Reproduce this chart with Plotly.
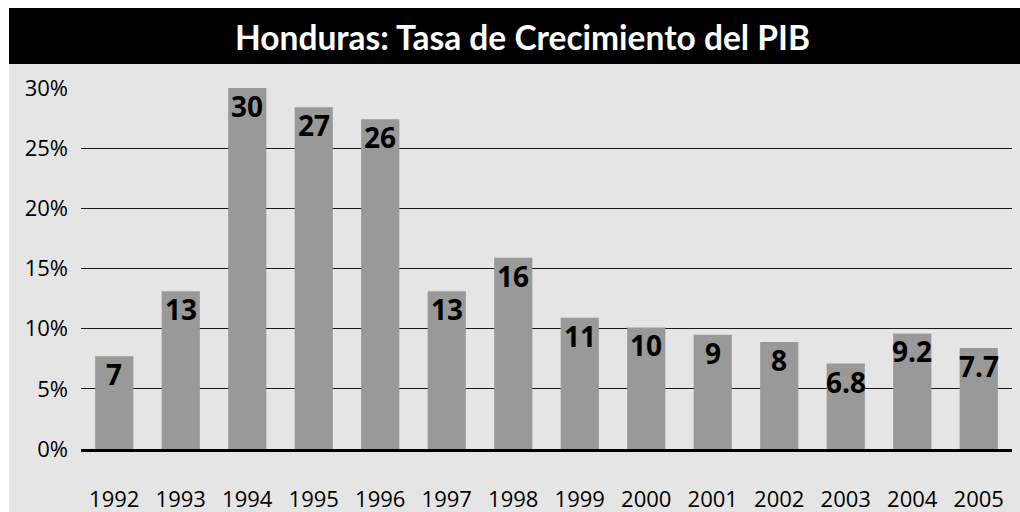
import plotly.graph_objects as go

years = ["1992", "1993", "1994", "1995", "1996", "1997", "1998",
         "1999", "2000", "2001", "2002", "2003", "2004", "2005"]
growth = [7.7, 13.1, 30.0, 28.4, 27.4, 13.1, 15.9,
          10.9, 10.1, 9.5, 8.9, 7.1, 9.6, 8.4]
labels = ["7", "13", "30", "27", "26", "13", "16",
          "11", "10", "9", "8", "6.8", "9.2", "7.7"]
y_ticks = [0, 5, 10, 15, 20, 25, 30]
y_tick_text = ["0%", "5%", "10%", "15%", "20%", "25%", "30%"]
title_text = "Honduras: Tasa de Crecimiento del PIB"

W, H = 1020, 512
L, R, T, B = 81, 8, 88, 63
pw, ph = W - L - R, H - T - B


def px_x(p):
    return (p - L) / pw


def px_y(p):
    return (H - B - p) / ph


fig = go.Figure()
fig.add_trace(go.Bar(
    x=years, y=growth,
    marker=dict(color="#999999", line=dict(width=0)),
    hoverinfo="skip",
))

# value labels: category axis positions are the serial index of each year
for i, (v, lab) in enumerate(zip(growth, labels)):
    fig.add_annotation(
        x=i, y=v, text=lab, showarrow=False,
        xanchor="center", yanchor="top", yshift=3,
        font=dict(family="Open Sans", size=28, color="black", weight="bold"),
    )

# background panels
fig.add_shape(type="rect", xref="paper", yref="paper", layer="below",
              x0=px_x(9), x1=px_x(1021), y0=px_y(513), y1=px_y(64),
              fillcolor="#e5e5e5", line=dict(width=0))
fig.add_shape(type="rect", xref="paper", yref="paper", layer="below",
              x0=px_x(9), x1=px_x(1021), y0=px_y(64), y1=px_y(8),
              fillcolor="black", line=dict(width=0))

fig.add_annotation(
    xref="paper", yref="paper", x=px_x(522), y=px_y(37),
    xanchor="center", yanchor="middle", showarrow=False,
    text="<b>" + title_text + "</b>",
    font=dict(family="Lato", size=33.5, color="white"),
)

fig.update_layout(
    width=W, height=H,
    margin=dict(l=L, r=R, t=T, b=B, pad=0, autoexpand=False),
    paper_bgcolor="white",
    plot_bgcolor="rgba(0,0,0,0)",
    bargap=0.426,
    showlegend=False,
    font=dict(family="Open Sans", size=22, color="black"),
)
fig.update_yaxes(
    range=[0, 30], tickvals=y_ticks, ticktext=y_tick_text,
    showgrid=True, gridcolor="#1a1a1a", gridwidth=1,
    zeroline=False, showline=False, ticks="",
    ticklabelstandoff=12, automargin=False,
    tickfont=dict(family="Open Sans", size=22, color="black"),
)
fig.update_xaxes(
    type="category", range=[-0.5, len(years) - 0.5],
    showline=True, linecolor="black", linewidth=2.5,
    showgrid=False, ticks="", ticklabelstandoff=29, automargin=False,
    tickfont=dict(family="Open Sans", size=22, color="black"),
)

fig.write_html(
    "out.html",
    config={"displayModeBar": False},
    post_script="document.body.style.margin='0';document.body.style.overflow='hidden';",
)
